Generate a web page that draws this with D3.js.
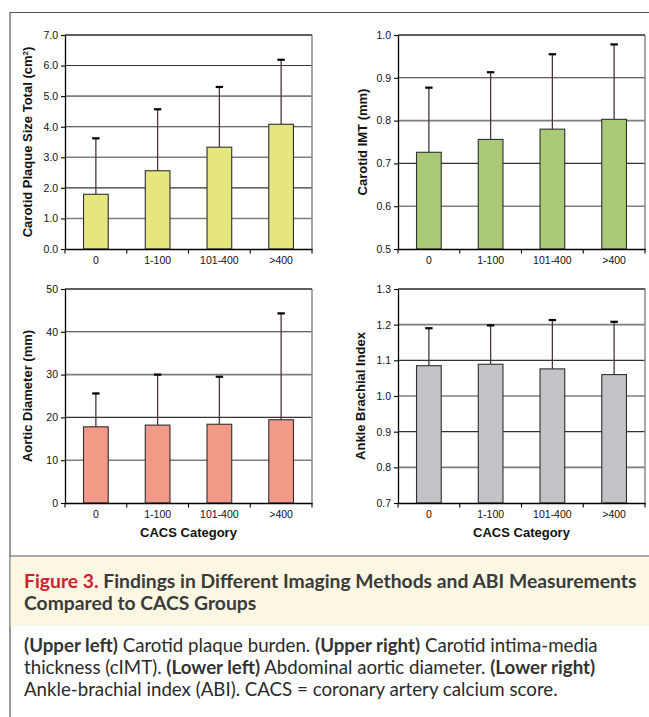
<!DOCTYPE html>
<html><head><meta charset="utf-8">
<script src="https://cdn.jsdelivr.net/npm/d3@7"></script>
<style>
html,body{margin:0;padding:0;background:#fff;}
svg{display:block;}
</style></head>
<body>
<script>
// ---- data ----
const categories = ["0", "1-100", "101-400", ">400"];
const plaqueMean  = [1.79, 2.56, 3.33, 4.08];
const plaqueUpper = [3.62, 4.57, 5.30, 6.19];
const imtMean  = [0.726, 0.756, 0.780, 0.803];
const imtUpper = [0.877, 0.913, 0.955, 0.978];
const aorticMean  = [17.8, 18.2, 18.4, 19.45];
const aorticUpper = [25.6, 30.0, 29.5, 44.3];
const abiMean  = [1.085, 1.089, 1.076, 1.060];
const abiUpper = [1.190, 1.198, 1.213, 1.208];
const plaqueTicks = [0,1,2,3,4,5,6,7];
const imtTicks = [0.5,0.6,0.7,0.8,0.9,1.0];
const aorticTicks = [0,10,20,30,40,50];
const abiTicks = [0.7,0.8,0.9,1.0,1.1,1.2,1.3];
const xTitle = "CACS Category";
const captionHeadRed = "Figure 3.";
const captionHead1 = " Findings in Different Imaging Methods and ABI Measurements";
const captionHead2 = "Compared to CACS Groups";

const W = 649, H = 717;
const svg = d3.select("body").append("svg").attr("width", W).attr("height", H);

// frame
svg.append("rect").attr("x",0).attr("y",0).attr("width",W).attr("height",H).attr("fill","#fff");
svg.append("line").attr("x1",10).attr("x2",W).attr("y1",12.5).attr("y2",12.5).attr("stroke","#555").attr("stroke-width",1.2);
svg.append("line").attr("x1",10).attr("x2",10).attr("y1",12).attr("y2",H).attr("stroke","#555").attr("stroke-width",1.2);
svg.append("rect").attr("x",10.6).attr("y",557).attr("width",W-10.6).attr("height",69).attr("fill","#fcf7e2");
svg.append("line").attr("x1",10).attr("x2",W).attr("y1",556).attr("y2",556).attr("stroke","#555").attr("stroke-width",1.2);

function panel(o) {
  const g = svg.append("g");
  const x = d3.scaleBand().domain(categories).range([o.left, o.right]).padding(0);
  const y = d3.scaleLinear().domain(o.domain).range([o.bottom, o.top]);
  // gridlines
  g.selectAll(".grid").data(o.ticks.slice(1)).join("line")
    .attr("x1", o.left).attr("x2", o.right)
    .attr("y1", d => y(d)).attr("y2", d => y(d))
    .attr("stroke", (d,i) => i % 2 === 0 ? "#7d7d7d" : "#333").attr("stroke-width", (d,i)=> i%2===0 ? 1.6 : 1.1);
  // right border
  g.append("line").attr("x1", o.right).attr("x2", o.right).attr("y1", o.top).attr("y2", o.bottom)
    .attr("stroke", "#8a8a8a").attr("stroke-width", 1.5);
  // bars
  const bw = x.bandwidth() * 0.4;
  const data = categories.map((c, i) => ({c, m: o.mean[i], u: o.upper[i]}));
  // error lines
  g.selectAll(".err").data(data).join("line")
    .attr("x1", d => x(d.c) + x.bandwidth()/2).attr("x2", d => x(d.c) + x.bandwidth()/2)
    .attr("y1", d => y(d.m)).attr("y2", d => y(d.u))
    .attr("stroke", "#4b3636").attr("stroke-width", 1.3);
  g.selectAll(".cap").data(data).join("line")
    .attr("x1", d => x(d.c) + x.bandwidth()/2 - 3.7).attr("x2", d => x(d.c) + x.bandwidth()/2 + 3.7)
    .attr("y1", d => y(d.u)).attr("y2", d => y(d.u))
    .attr("stroke", "#000").attr("stroke-width", 2.2);
  g.selectAll(".bar").data(data).join("rect")
    .attr("x", d => x(d.c) + (x.bandwidth() - bw)/2)
    .attr("y", d => y(d.m))
    .attr("width", bw).attr("height", d => o.bottom - y(d.m))
    .attr("fill", o.color).attr("stroke", "#2f2f2f").attr("stroke-width", 1.1);
  // y axis
  const ya = d3.axisLeft(y).tickValues(o.ticks).tickFormat(d3.format(o.fmt)).tickSize(4).tickSizeOuter(0);
  const yg = g.append("g").attr("transform", `translate(${o.left},0)`).call(ya);
  yg.select(".domain").attr("stroke", "#000").attr("stroke-width", 1.3);
  yg.selectAll(".tick line").attr("stroke", "#000").attr("stroke-width", 1.1);
  yg.selectAll(".tick text").attr("font-family", "Liberation Sans, Arial, sans-serif").attr("font-size", 10.5).attr("fill", "#111").attr("x", -7);
  // top border
  g.append("line").attr("x1", o.left).attr("x2", o.right).attr("y1", o.top).attr("y2", o.top)
    .attr("stroke", "#222").attr("stroke-width", 1.2);
  // x axis
  const xa = d3.axisBottom(x).tickSize(0).tickSizeOuter(0);
  const xg = g.append("g").attr("transform", `translate(0,${o.bottom})`).call(xa);
  xg.select(".domain").attr("stroke", "#000").attr("stroke-width", 1.3);
  xg.selectAll(".tick text").attr("font-family", "Liberation Sans, Arial, sans-serif").attr("font-size", 10.5).attr("fill", "#111").attr("y", 8);
  // boundary ticks
  const bounds = categories.map(c => x(c)).concat([o.right]);
  g.selectAll(".bt").data(bounds).join("line")
    .attr("x1", d => d).attr("x2", d => d).attr("y1", o.bottom).attr("y2", o.bottom + 4.5)
    .attr("stroke", "#000").attr("stroke-width", 1.1);
  // y title
  const cy = (o.top + o.bottom) / 2;
  const yt = g.append("text").attr("transform", `translate(${o.left - o.titleOff},${cy}) rotate(-90)`)
    .attr("text-anchor", "middle").attr("font-family", "Liberation Sans, Arial, sans-serif")
    .attr("font-weight", "bold").attr("font-size", 13).attr("fill", "#111");
  yt.text(o.title);
  if (o.sup) {
    yt.append("tspan").attr("font-size", 8).attr("dy", -4).text(o.sup);
    yt.append("tspan").attr("dy", 4).text(")");
  }
  if (o.xTitle) {
    g.append("text").attr("x", (o.left + o.right) / 2).attr("y", o.bottom + 34)
      .attr("text-anchor", "middle").attr("font-family", "Liberation Sans, Arial, sans-serif")
      .attr("font-weight", "bold").attr("font-size", 13).attr("fill", "#111").text(o.xTitle);
  }
}

panel({left: 65, right: 312, top: 35, bottom: 249, domain: [0, 7], ticks: plaqueTicks, fmt: ".1f",
  mean: plaqueMean, upper: plaqueUpper, color: "#e6e67f", title: "Carotid Plaque Size Total (cm", sup: "2", titleOff: 33});
panel({left: 398, right: 645, top: 35, bottom: 249, domain: [0.5, 1.0], ticks: imtTicks, fmt: ".1f",
  mean: imtMean, upper: imtUpper, color: "#aaca78", title: "Carotid IMT (mm)", titleOff: 31});
panel({left: 65, right: 312, top: 289, bottom: 503, domain: [0, 50], ticks: aorticTicks, fmt: "d",
  mean: aorticMean, upper: aorticUpper, color: "#f29a87", title: "Aortic Diameter (mm)", titleOff: 33, xTitle: xTitle});
panel({left: 398, right: 645, top: 289, bottom: 503, domain: [0.7, 1.3], ticks: abiTicks, fmt: ".1f",
  mean: abiMean, upper: abiUpper, color: "#c3c2c7", title: "Ankle Brachial Index", titleOff: 33, xTitle: xTitle});

// caption
const capFont = "Lato, 'Open Sans', sans-serif";
const h1 = svg.append("text").attr("x", 24).attr("y", 588).attr("font-family", capFont)
  .attr("font-weight", "bold").attr("font-size", 16).attr("fill", "#3a3a3a");
h1.append("tspan").attr("fill", "#d0202f").text(captionHeadRed);
h1.append("tspan").text(captionHead1);
const h2 = svg.append("text").attr("x", 24).attr("y", 610).attr("font-family", capFont)
  .attr("font-weight", "bold").attr("font-size", 16).attr("fill", "#3a3a3a").text(captionHead2);
function fit(sel, target, others) {
  const w = sel.node().getComputedTextLength();
  const fs = 16 * target / w;
  sel.attr("font-size", fs);
  (others || []).forEach(s => s.attr("font-size", fs));
}
fit(h1, 613, [h2]);

const bodyLines = [
  [["b","(Upper left)"],["n"," Carotid plaque burden. "],["b","(Upper right)"],["n"," Carotid intima-media"]],
  [["n","thickness (cIMT). "],["b","(Lower left)"],["n"," Abdominal aortic diameter. "],["b","(Lower right)"]],
  [["n","Ankle-brachial index (ABI). CACS = coronary artery calcium score."]]
];
const bodyY = [652, 674, 696];
const bodyEls = bodyLines.map((ln, i) => {
  const t = svg.append("text").attr("x", 24).attr("y", bodyY[i]).attr("font-family", capFont)
    .attr("font-size", 16).attr("fill", "#2a2a2a");
  ln.forEach(([k, s]) => t.append("tspan").attr("font-weight", k === "b" ? "bold" : "normal")
    .attr("fill", k === "b" ? "#333" : "#2a2a2a").text(s));
  return t;
});
fit(bodyEls[0], 574, bodyEls.slice(1));
</script>
</body></html>
